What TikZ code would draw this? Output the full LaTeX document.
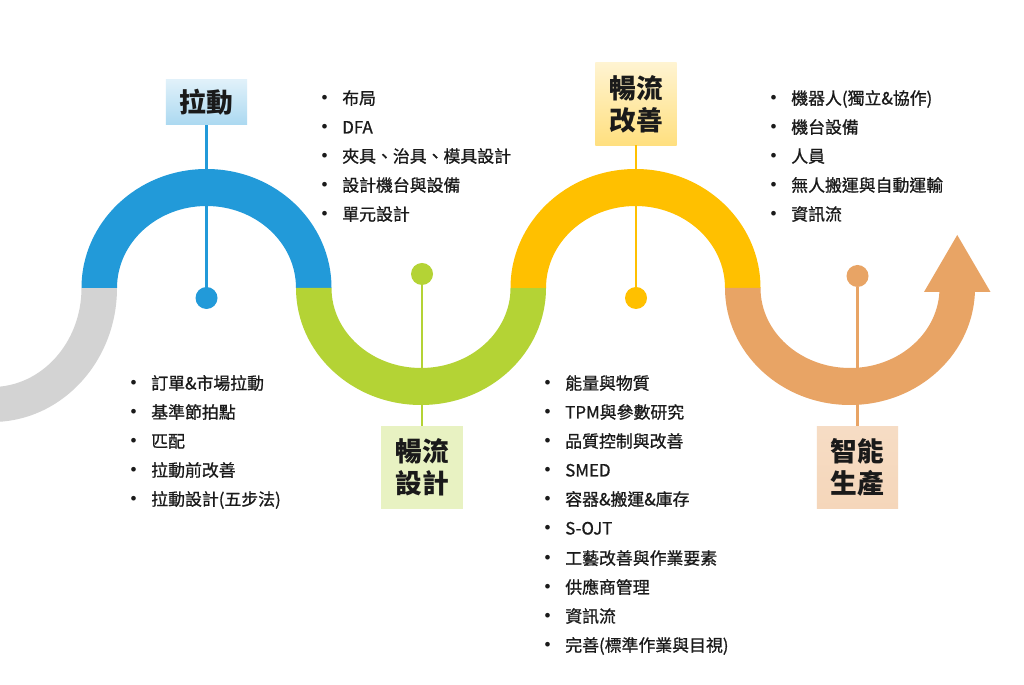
\documentclass[tikz,border=0pt]{standalone}
\usepackage{fontspec}
\newfontfamily\cjk{Noto Sans CJK TC}
\newfontfamily\cjkmid[FakeBold=0.9]{Noto Sans CJK TC}

\definecolor{pullblue}{HTML}{229AD9}
\definecolor{desgreen}{HTML}{B4D335}
\definecolor{impyellow}{HTML}{FFC000}
\definecolor{smartorange}{HTML}{E8A465}
\definecolor{startgray}{HTML}{D3D3D3}
\definecolor{inktext}{HTML}{1A1A1A}

\newcommand{\bul}{\llap{\raisebox{2.6pt}{\footnotesize$\bullet$}\hspace{10.5pt}}}

\tikzset{
  stagebox/.style={inner sep=0pt, align=center, text=inktext,
    font=\cjk\bfseries\fontsize{19}{23}\selectfont, minimum width=2.03cm},
  stagedot/.style={circle, fill=#1, minimum size=0.55cm, inner sep=0pt},
  stem/.style={#1, line width=2.1pt},
  listitem/.style={anchor=west, inner sep=0pt, text=inktext,
    font=\cjkmid\fontsize{12}{14}\selectfont, text height=10.6pt, text depth=1.4pt}
}

\begin{document}
\begin{tikzpicture}[x=0.025cm,y=0.025cm]
    \useasboundingbox (0,0) rectangle (1024,684);
    \clip (0,0) rectangle (1024,684);
    \fill[white] (0,0) rectangle (1024,684);

    % Bands
    \fill[startgray] (-133,396) arc[start angle=180, end angle=360, x radius=125, y radius=134]
        -- (81.5,396) arc[start angle=0, end angle=-180, x radius=89.5, y radius=99] -- cycle;
    \fill[pullblue] (81.5,396) arc[start angle=180, end angle=0, x radius=125, y radius=119]
        -- (296,396) arc[start angle=0, end angle=180, x radius=89.5, y radius=82] -- cycle;
    \fill[desgreen] (296,396) arc[start angle=180, end angle=360, x radius=125, y radius=117]
        -- (510.5,396) arc[start angle=0, end angle=-180, x radius=89.5, y radius=80] -- cycle;
    \fill[impyellow] (510.5,396) arc[start angle=180, end angle=0, x radius=125, y radius=119]
        -- (725,396) arc[start angle=0, end angle=180, x radius=89.5, y radius=82] -- cycle;
    \fill[smartorange] (725,396) arc[start angle=180, end angle=360, x radius=125, y radius=117]
        -- (939.5,396) arc[start angle=0, end angle=-180, x radius=89.5, y radius=80] -- cycle;
    % arrow head
    \fill[smartorange] (924,392) -- (957.25,449) -- (990.5,392) -- cycle;

    % Stages
    \node[stagebox, minimum height=1.125cm, top color=pullblue!14!white, bottom color=pullblue!38!white] (pull) at (206.5,581.5) {拉動};
    \node[stagebox, minimum height=2.05cm, fill=desgreen!30!white] (flowdes) at (422,216.5) {暢流\\設計};
    \node[stagebox, minimum height=2.05cm, top color=impyellow!18!white, bottom color=impyellow!50!white] (flowimp) at (636,580) {暢流\\改善};
    \node[stagebox, minimum height=2.05cm, top color=smartorange!38!white, bottom color=smartorange!45!white] (smart) at (857.5,216.5) {智能\\生產};

    \node[stagedot=pullblue] (pulldot) at (206.5,386) {};
    \node[stagedot=desgreen] (desdot) at (422,410) {};
    \node[stagedot=impyellow] (impdot) at (636,386) {};
    \node[stagedot=smartorange] (smartdot) at (857.5,408) {};

    \draw[stem=pullblue] (pull) -- (pulldot);
    \draw[stem=desgreen] (desdot) -- (flowdes);
    \draw[stem=impyellow] (flowimp) -- (impdot);
    \draw[stem=smartorange] (smartdot) -- (smart);

    % Lists
        % pull
        \node[listitem] (pl1) at (151,301) {\bul 訂單\&市場拉動};
        \node[listitem] (pl2) at (151,272) {\bul 基準節拍點};
        \node[listitem] (pl3) at (151,243) {\bul 匹配};
        \node[listitem] (pl4) at (151,214) {\bul 拉動前改善};
        \node[listitem] (pl5) at (151,185) {\bul 拉動設計(五步法)};

        % flow design
        \node[listitem] (fd1) at (342,586) {\bul 布局};
        \node[listitem] (fd2) at (342,557) {\bul DFA};
        \node[listitem] (fd3) at (342,528) {\bul 夾具、治具、模具設計};
        \node[listitem] (fd4) at (342,499) {\bul 設計機台與設備};
        \node[listitem] (fd5) at (342,470) {\bul 單元設計};

        % flow improvement
        \node[listitem] (fi1) at (565,301) {\bul 能量與物質};
        \node[listitem] (fi2) at (565,272) {\bul TPM與參數研究};
        \node[listitem] (fi3) at (565,243) {\bul 品質控制與改善};
        \node[listitem] (fi4) at (565,214) {\bul SMED};
        \node[listitem] (fi5) at (565,185) {\bul 容器\&搬運\&庫存};
        \node[listitem] (fi6) at (565,156) {\bul S-OJT};
        \node[listitem] (fi7) at (565,126) {\bul 工藝改善與作業要素};
        \node[listitem] (fi8) at (565,97) {\bul 供應商管理};
        \node[listitem] (fi9) at (565,68) {\bul 資訊流};
        \node[listitem] (fi10) at (565,39) {\bul 完善(標準作業與目視)};

        % smart production
        \node[listitem] (sp1) at (791,586) {\bul 機器人(獨立\&協作)};
        \node[listitem] (sp2) at (791,557) {\bul 機台設備};
        \node[listitem] (sp3) at (791,528) {\bul 人員};
        \node[listitem] (sp4) at (791,499) {\bul 無人搬運與自動運輸};
        \node[listitem] (sp5) at (791,470) {\bul 資訊流};
\end{tikzpicture}
\end{document}
